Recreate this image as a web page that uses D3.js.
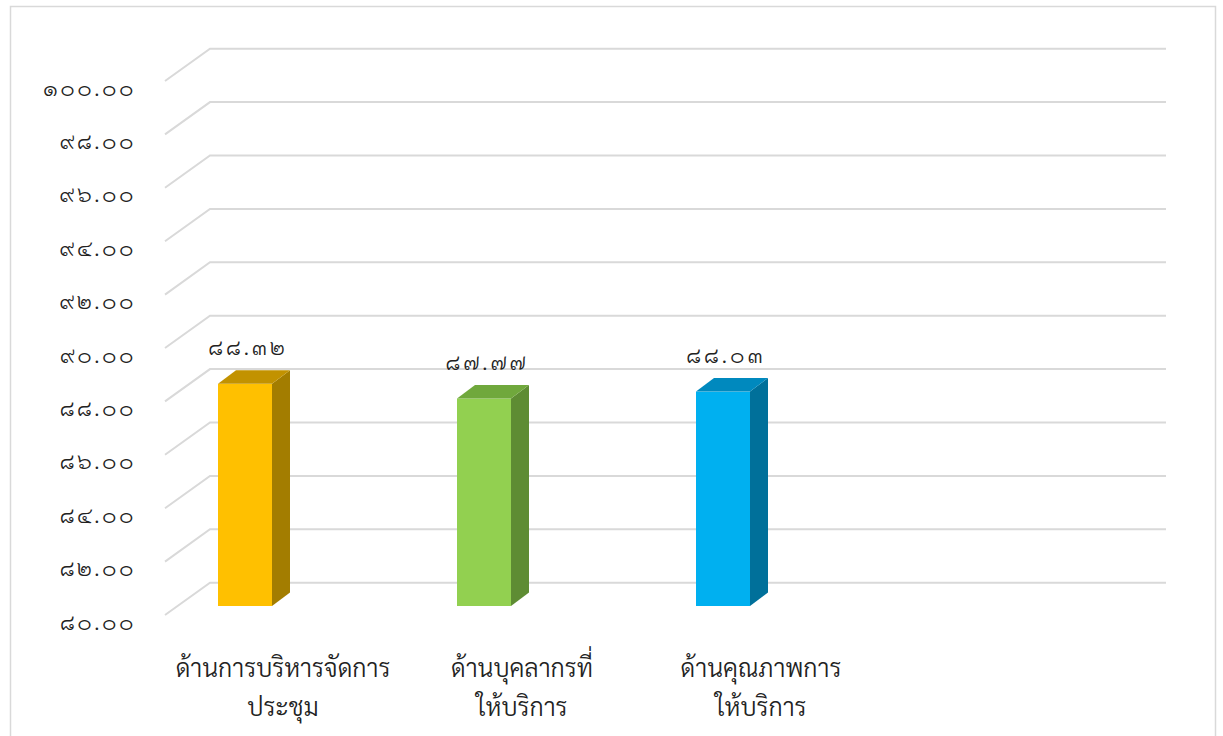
<!DOCTYPE html>
<html><head><meta charset="utf-8">
<script src="https://cdn.jsdelivr.net/npm/d3@7"></script>
<style>
html,body{margin:0;padding:0;background:#fff;}
svg text{font-family:"TH Sarabun New","Sarabun","Loma","Garuda","Waree","Noto Sans Thai","Leelawadee UI",Tahoma,"Noto Sans",sans-serif;fill:#222;}
</style></head>
<body>
<svg id="c" width="1223" height="736"></svg>
<script>
const categories = [["ด้านการบริหารจัดการ","ประชุม"],["ด้านบุคลากรที่","ให้บริการ"],["ด้านคุณภาพการ","ให้บริการ"]];
const values = [88.32, 87.77, 88.03];
const valueLabels = ["๘๘.๓๒","๘๗.๗๗","๘๘.๐๓"];
const tickValues = [80,82,84,86,88,90,92,94,96,98,100];
const tickLabels = ["๘๐.๐๐","๘๒.๐๐","๘๔.๐๐","๘๖.๐๐","๘๘.๐๐","๙๐.๐๐","๙๒.๐๐","๙๔.๐๐","๙๖.๐๐","๙๘.๐๐","๑๐๐.๐๐"];
const frontColors = ["#FFC000","#92D050","#00B0F0"];
const topColors = ["#C29200","#70A83C","#0089BE"];
const sideColors = ["#A37D00","#5E8C33","#00709A"];

const svg = d3.select("#c");
svg.append("rect").attr("x",10.5).attr("y",6.5).attr("width",1205).attr("height",740)
  .attr("fill","#fff").attr("stroke","#d9d9d9").attr("stroke-width",1.5);

const y = d3.scaleLinear().domain([80,100]).range([606,72]);
const x = d3.scalePoint().domain(d3.range(categories.length)).range([245,723]);
const bw = 54, dx = 18, dy = 13.5;

svg.append("g").selectAll("path").data(tickValues).join("path")
  .attr("d", v => `M165,${y(v)+9}L210,${y(v)-23.3}L1166,${y(v)-23.3}`)
  .attr("fill","none").attr("stroke","#d9d9d9").attr("stroke-width",2);

const ax = d3.axisLeft(y).tickValues(tickValues).tickSize(0).tickPadding(0)
  .tickFormat((d,i) => tickLabels[i]);
const axg = svg.append("g").attr("transform","translate(136,16)").call(ax);
axg.select(".domain").remove();
axg.selectAll("text").attr("font-size",22).attr("fill","#333").attr("letter-spacing",2.5)
  .attr("font-weight",300).style("font-family",null);

const bars = svg.append("g").selectAll("g").data(values).join("g");
bars.append("rect")
  .attr("x",(d,i)=>x(i)-bw/2).attr("y",d=>y(d))
  .attr("width",bw).attr("height",d=>y(80)-y(d))
  .attr("fill",(d,i)=>frontColors[i]);
bars.append("path")
  .attr("d",(d,i)=>{const x0=x(i)+bw/2; return `M${x0},${y(d)}L${x0+dx},${y(d)-dy}L${x0+dx},${y(80)-dy}L${x0},${y(80)}Z`;})
  .attr("fill",(d,i)=>sideColors[i]);
bars.append("path")
  .attr("d",(d,i)=>{const x0=x(i)-bw/2; return `M${x0},${y(d)}L${x0+dx},${y(d)-dy}L${x0+bw+dx},${y(d)-dy}L${x0+bw},${y(d)}Z`;})
  .attr("fill",(d,i)=>topColors[i]);

svg.append("g").selectAll("text").data(values).join("text")
  .attr("x",(d,i)=>x(i)+3).attr("y",d=>y(d)-36.5).attr("dy","0.35em")
  .attr("text-anchor","middle").attr("font-size",22).attr("letter-spacing",3)
  .attr("fill","#333").attr("font-weight",300)
  .text((d,i)=>valueLabels[i]);

const cl = svg.append("g").selectAll("text").data(categories).join("text")
  .attr("text-anchor","middle").attr("font-size",25).attr("font-weight",300);
cl.selectAll("tspan").data((d,i)=>d.map(t=>({t,i}))).join("tspan")
  .attr("x",d=>x(d.i)+38).attr("y",(d,j)=>668+j*39).attr("dy","0.35em")
  .text(d=>d.t);
</script>
</body></html>
